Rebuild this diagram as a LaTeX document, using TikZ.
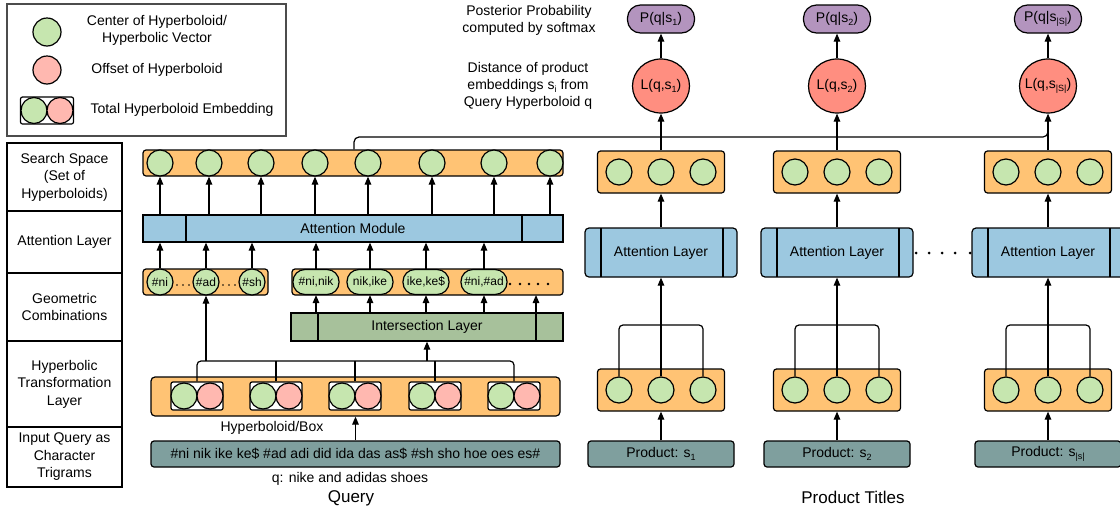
\documentclass[tikz,border=0pt]{standalone}
\usepackage{fontspec}
\setmainfont{Liberation Sans}
\usetikzlibrary{arrows.meta,shapes.geometric,calc}
\definecolor{orng}{HTML}{FFC374}
\definecolor{grn}{HTML}{C6E6AF}
\definecolor{pnk}{HTML}{FFB8B0}
\definecolor{blu}{HTML}{9CC8E0}
\definecolor{igrn}{HTML}{A7C19B}
\definecolor{tealg}{HTML}{7F9F9E}
\definecolor{purp}{HTML}{B394BE}
\definecolor{salm}{HTML}{FF8E80}
\newcommand\lowsub[1]{\raisebox{-0.35ex}{\fontsize{9}{9}\selectfont #1}}
\begin{document}
\begin{tikzpicture}[x=1pt,y=-1pt,
  every node/.style={font=\fontsize{14}{17}\selectfont},
  outl/.style={draw, line width=1.2pt, inner sep=0pt},
  obar/.style={outl, fill=orng, rounded corners=3pt},
  gc/.style={outl, circle, fill=grn, minimum size=26pt, font=\fontsize{12}{12}\selectfont},
  pc/.style={outl, circle, fill=pnk, minimum size=26pt},
  ablk/.style={outl, fill=blu},
  arr/.style={line width=1.2pt, -{Triangle[length=8pt,width=6.5pt]}},
  ln/.style={line width=1.2pt},
  rowbox/.style={draw, line width=1.5pt, minimum width=115pt, align=center, inner sep=0pt, font=\fontsize{14}{17.5}\selectfont},
  txt/.style={align=center, inner sep=0pt},
  pairbox/.style={outl, fill=white, rounded corners=2pt, minimum width=52pt, minimum height=28pt},
  gpill/.style={outl, fill=grn, rounded corners=12pt, minimum width=46pt, minimum height=25pt, font=\fontsize{12}{12}\selectfont},
]
\useasboundingbox (0,0) rectangle (1120,512);

% ---------------- legend
\node[draw=black!70, line width=1.5pt, minimum width=279pt, minimum height=132pt, inner sep=0pt] (leg) at (146.5,70) {};
\node[gc, minimum size=28pt] (lg) at (47,32) {};
\node[txt] (lgt) at (157,30.5) {Center of Hyperboloid/\\Hyperbolic Vector};
\node[pc, minimum size=28pt] (lp) at (47,70) {};
\node[txt] (lpt) at (157,70) {Offset of Hyperboloid};
\node[pairbox, minimum width=53pt, minimum height=27pt] (lpair) at (47,110.5) {};
\node[gc] (lpg) at (34,110.5) {};
\node[pc] (lpp) at (60,110.5) {};
\node[txt] (lpairt) at (182,109.5) {Total Hyperboloid Embedding};

% ---------------- left table
\node[rowbox, minimum height=68pt] (r1) at (64.5,177) {Search Space\\(Set of\\Hyperboloids)};
\node[rowbox, minimum height=62pt] (r2) at (64.5,242) {Attention Layer};
\node[rowbox, minimum height=68pt] (r3) at (64.5,307) {Geometric\\Combinations};
\node[rowbox, minimum height=86pt] (r4) at (64.5,384) {Hyperbolic\\Transformation\\Layer};
\node[rowbox, minimum height=60pt] (r5) at (64.5,457) {Input Query as\\Character\\Trigrams};

% ---------------- query: search space
\node[obar, minimum width=420pt, minimum height=26pt] (ss) at (353,163) {};
\foreach \x [count=\k] in {160,209,261,315,368,432,494,550}
  \node[gc] (s\k) at (\x,163) {};

% attention module
\node[ablk, minimum width=420pt, minimum height=27pt] (am) at (353,228.5) {Attention Module};
\draw[ln] (186,215) -- (186,242);
\draw[ln] (522,215) -- (522,242);
\foreach \k in {1,...,8}
  \draw[arr] (am.north -| s\k.south) -- (s\k.south);

% geometric combinations
\node[obar, minimum width=125pt, minimum height=26pt] (gL) at (205.5,282) {};
\node[gc] (gA) at (160,282) {\#ni};
\node[gc] (gB) at (206,282) {\#ad};
\node[gc] (gC) at (252,282) {\#sh};
\foreach \x in {177,183,189,223,229,235}
  \fill (\x,285) circle (0.8pt);
\node[obar, minimum width=271pt, minimum height=26pt] (gR) at (427.5,282) {};
\node[gpill] (rA) at (316,282) {\#ni,nik};
\node[gpill] (rB) at (370,282) {nik,ike};
\node[gpill] (rC) at (426,282) {ike,ke\$};
\node[gpill] (rD) at (484,282) {\#ni,\#ad};
\foreach \x in {510,520,529,538,548}
  \fill (\x,284) circle (1.4pt);
\foreach \n in {gA,gB,gC,rA,rB,rC,rD}
  \draw[arr] (\n.north) -- (am.south -| \n.north);

% intersection layer
\node[outl, fill=igrn, minimum width=272pt, minimum height=28pt] (inter) at (427,327) {Intersection Layer};
\draw[ln] (318,313) -- (318,341);
\draw[ln] (536,313) -- (536,341);
\coordinate (rE) at (536,295);
\foreach \n in {rA,rB,rC,rD}
  \draw[arr] (inter.north -| \n.south) -- (\n.south);
\draw[arr] (inter.north -| rE) -- (rE);

% hyperboloid transformation
\node[obar, rounded corners=4pt, minimum width=409pt, minimum height=39pt] (hyp) at (355.5,396.5) {};
\foreach \x [count=\k] in {197,276,355,435,514} {
  \node[pairbox] (hp\k) at (\x,396) {};
  \node[gc] (hg\k) at ({\x-13},396) {};
  \node[pc] (hq\k) at ({\x+13},396) {};
}
\coordinate (qbus) at (355,361);
\draw[ln, rounded corners=4pt] (hp1.north) |- (qbus) -| (hp5.north);
\foreach \k in {2,3,4}
  \draw[ln] (hp\k.north) -- (hp\k.north |- qbus);
\draw[arr] (gB.south |- qbus) -- (gB.south);
\draw[arr] (inter.south |- qbus) -- (inter.south);
\node[txt] (hbl) at (272,428) {Hyperboloid/Box};

% trigram input
\node[outl, fill=tealg, rounded corners=3pt, minimum width=409pt, minimum height=26pt] (tri) at (355.5,454)
  {\#ni nik ike ke\$ \#ad adi did ida das as\$ \#sh sho hoe oes es\#};
\draw[arr] (tri.north) -- (hyp.south);
\node[txt] (qtxt) at (350,479) {q: nike and adidas shoes};
\node[txt, font=\fontsize{17}{17}\selectfont] (qry) at (351,498) {Query};

% ---------------- side labels
\node[txt] (post) at (529,20) {Posterior Probability\\computed by softmax};
\node[txt] (dist) at (528,86) {Distance of product\\embeddings s\lowsub{i} from\\Query Hyperboloid q};

% ---------------- product columns
\foreach \c/\i/\lab/\plab in {661/1/1/1, 837/2/2/2, 1048/3/{|S|}/{|s|}} {
  \node[outl, fill=purp, rounded corners=13pt, minimum width=67pt, minimum height=28pt] (P\i) at (\c,19) {P(q|s\lowsub{\lab})};
  \node[outl, ellipse, fill=salm, minimum width=57pt, minimum height=54pt] (L\i) at (\c,86) {\makebox[0pt]{L(q,s\lowsub{\lab})}};
  \draw[arr] (L\i.north) -- (P\i.south);
  \node[obar, minimum width=127pt, minimum height=42pt] (T\i) at (\c,172) {};
  \node[gc] (Ta\i) at ({\c-42},172) {};
  \node[gc] (Tb\i) at (\c,172) {};
  \node[gc] (Tc\i) at ({\c+42},172) {};
  \draw[arr] (T\i.north) -- (L\i.south);
  \node[ablk, rounded corners=4pt, minimum width=152pt, minimum height=49pt] (A\i) at (\c,252.5) {Attention Layer};
  \draw[ln] ({\c-60},228) -- ({\c-60},277);
  \draw[ln] ({\c+62},228) -- ({\c+62},277);
  \draw[arr] (A\i.north) -- (T\i.south);
  \node[obar, minimum width=127pt, minimum height=42pt] (B\i) at (\c,390) {};
  \node[gc] (Ba\i) at ({\c-42},390) {};
  \node[gc] (Bb\i) at (\c,390) {};
  \node[gc] (Bc\i) at ({\c+42},390) {};
  \coordinate (bus\i) at (\c,325);
  \draw[ln, rounded corners=4pt] (Ba\i.north) |- (bus\i) -| (Bc\i.north);
  \draw[arr] (Bb\i.north) -- (A\i.south);
  \node[outl, fill=tealg, rounded corners=3pt, minimum width=146pt, minimum height=26pt] (pr\i) at (\c,454) {Product: s\lowsub{\plab}};
  \draw[arr] (pr\i.north) -- (B\i.south);
}
\foreach \x in {916,929,942,955,970}
  \fill (\x,253) circle (1.5pt);
\node[txt, font=\fontsize{17}{17}\selectfont] (ptit) at (853,497) {Product Titles};

% query to products
\coordinate (qturn) at (354,137);
\draw[ln, rounded corners=5pt] (ss.north -| qturn) -- (qturn) -- (qturn -| L3.south) -- ($(qturn -| L3.south)+(0,-10)$);
\end{tikzpicture}
\end{document}
